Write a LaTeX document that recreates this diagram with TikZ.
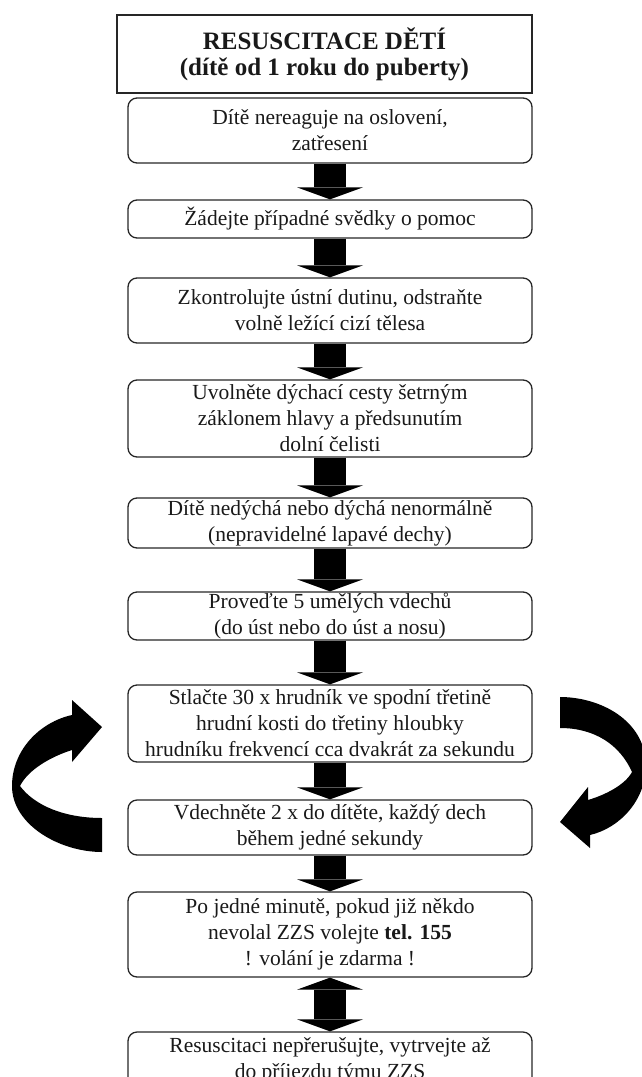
\documentclass[tikz,border=0pt]{standalone}
\usepackage{fontspec}
\setmainfont{Liberation Serif}
\usetikzlibrary{arrows.meta}
\begin{document}
\begin{tikzpicture}[x=1pt,y=-1pt,
  stepbox/.style={draw=black!85,line width=1.3pt,rounded corners=9pt,minimum width=404pt,align=center,inner sep=0pt,text=black!90,font=\fontsize{21.5}{26}\selectfont},
  titlebox/.style={draw=black!85,line width=1.6pt,minimum width=415pt,minimum height=78pt,align=center,inner sep=0pt,text=black!90,font=\fontsize{25}{26}\selectfont\bfseries},
  flow/.style={line width=32pt,-{Triangle[width=66pt,length=12pt,line width=0pt]}},
  twoway/.style={line width=32pt,{Triangle[width=66pt,length=12pt,line width=0pt]}-{Triangle[width=66pt,length=12pt,line width=0pt]}},
  looparrow/.style={fill=black}]
\useasboundingbox (0,0) rectangle (641,1077);
\node[titlebox] (title) at (324.5,54) {RESUSCITACE DĚTÍ\\(dítě od 1 roku do puberty)};
\node[stepbox,minimum height=65pt] (s1) at (330,130.5) {Dítě nereaguje na oslovení,\\zatřesení};
\node[stepbox,minimum height=38pt] (s2) at (330,219) {Žádejte případné svědky o pomoc};
\node[stepbox,minimum height=65pt] (s3) at (330,310.5) {Zkontrolujte ústní dutinu, odstraňte\\volně ležící cizí tělesa};
\node[stepbox,minimum height=77pt] (s4) at (330,418.5) {Uvolněte dýchací cesty šetrným\\záklonem hlavy a předsunutím\\dolní čelisti};
\node[stepbox,minimum height=50pt] (s5) at (330,523) {Dítě nedýchá nebo dýchá nenormálně\\(nepravidelné lapavé dechy)};
\node[stepbox,minimum height=48pt] (s6) at (330,616) {Proveďte 5 umělých vdechů\\(do úst nebo do úst a nosu)};
\node[stepbox,minimum height=77pt] (s7) at (330,723.5) {Stlačte 30 x hrudník ve spodní třetině\\hrudní kosti do třetiny hloubky\\hrudníku frekvencí cca dvakrát za sekundu};
\node[stepbox,minimum height=55pt] (s8) at (330,827.5) {Vdechněte 2 x do dítěte, každý dech\\během jedné sekundy};
\node[stepbox,minimum height=85pt] (s9) at (330,934.5) {Po jedné minutě, pokud již někdo\\nevolal ZZS volejte \textbf{tel. 155}\\! volání je zdarma !};
\node[stepbox,minimum height=56pt] (s10) at (330,1060) {Resuscitaci nepřerušujte, vytrvejte až\\do příjezdu týmu ZZS};
\foreach \src/\dst in {s1/s2,s2/s3,s3/s4,s4/s5,s5/s6,s6/s7,s7/s8,s8/s9}
  \draw[flow] (\src.south) -- (\dst.north);
\draw[twoway] (s9.south) -- (s10.north);
\fill[looparrow] (102,852) .. controls (60,852) and (12,825) .. (12,786) .. controls (12,750) and (40,722) .. (72,715) -- (72,700) -- (102,727) -- (72,762) -- (72,750) .. controls (50,757) and (28,770) .. (20,786) .. controls (35,806) and (65,818) .. (102,818) -- cycle;
\fill[looparrow] (560,697) .. controls (600,697) and (645,720) .. (646,765) .. controls (646,800) and (620,828) .. (590,835) -- (590,848) -- (560,822) -- (588,787) -- (588,800) .. controls (605,795) and (625,785) .. (632,772) .. controls (620,745) and (595,728) .. (560,728) -- cycle;
\end{tikzpicture}
\end{document}
